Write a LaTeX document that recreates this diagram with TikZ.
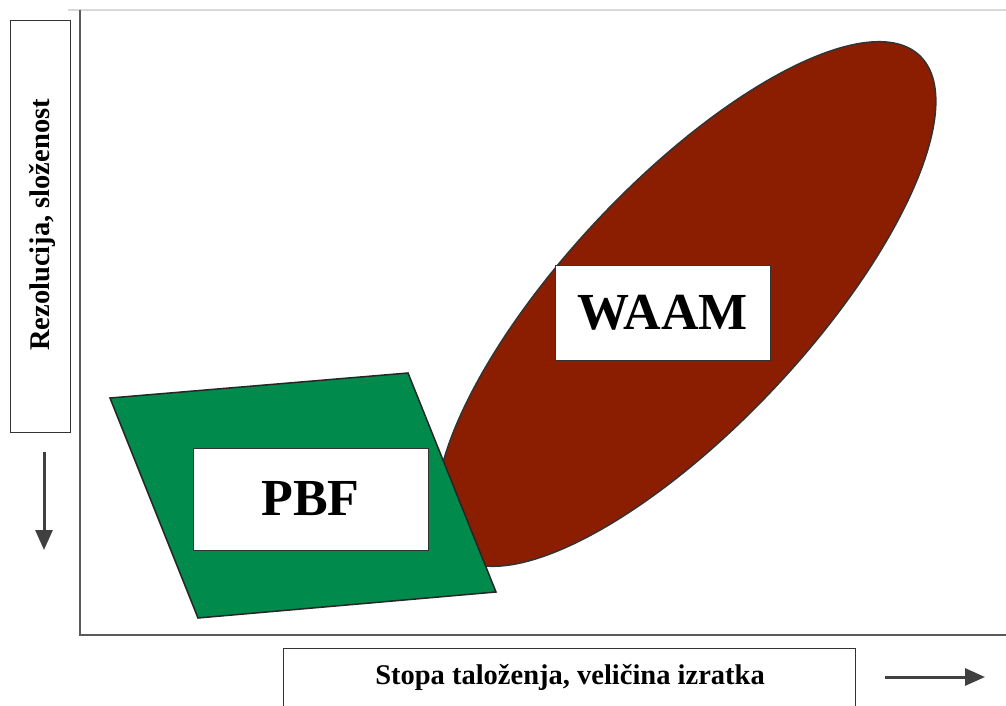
\documentclass[tikz,border=0pt]{standalone}
\usepackage{fontspec}
\setmainfont{Liberation Serif}
\usetikzlibrary{arrows.meta}
\definecolor{pbfgreen}{RGB}{0,138,76}
\definecolor{waamred}{RGB}{139,30,0}
\definecolor{axisgray}{RGB}{90,90,90}
\begin{document}
\begin{tikzpicture}[x=1pt,y=1pt,
  labelbox/.style={draw=black!80,line width=0.8pt,fill=white},
  axisline/.style={draw=axisgray,line width=2.8pt},
  dirarrow/.style={draw=black!75,line width=3pt,-{Triangle[length=20pt,width=17pt]}},
  regionlabel/.style={font=\bfseries\fontsize{52}{52}\selectfont,text=black},
  axislabel/.style={font=\bfseries\fontsize{28.5}{28.5}\selectfont,text=black}]
\useasboundingbox (0,0) rectangle (1006,705);
\fill[white] (0,0) rectangle (1006,705);
% frame lines
\draw[black!15,line width=2pt] (68,695) -- (1006,695);
\draw[axisline] (80,695) -- (80,70) -- (1006,70);
% WAAM ellipse
\filldraw[fill=waamred,draw=black!80,line width=1.5pt,rotate around={46.8:(686,401)}] (686,401) ellipse [x radius=341, y radius=122];
% PBF parallelogram
\filldraw[fill=pbfgreen,draw=black!85,line width=1.5pt] (110,307) -- (408,332) -- (496,113) -- (198,87) -- cycle;
% label boxes
\node[labelbox,minimum width=235pt,minimum height=102pt,inner sep=0pt,regionlabel] (pbf) at (310.5,206) {PBF};
\node[labelbox,minimum width=215pt,minimum height=95pt,inner sep=0pt,regionlabel] (waam) at (662.5,392.5) {WAAM};
% axis labels
\node[labelbox,minimum width=60pt,minimum height=412pt,inner sep=0pt] (ybox) at (40,479) {};
\node[rotate=90,axislabel] (ylab) at (42,480) {Rezolucija, složenost};
\node[labelbox,minimum width=572pt,minimum height=70pt,inner sep=0pt] (xbox) at (569,22) {};
\node[axislabel] (xlab) at (570,28) {Stopa taloženja, veličina izratka};
% direction arrows
\coordinate (ya) at (44,253);
\coordinate (yb) at (44,155);
\draw[dirarrow] (ya) -- (yb);
\coordinate (xa) at (885,28);
\coordinate (xb) at (985,28);
\draw[dirarrow] (xa) -- (xb);
\end{tikzpicture}
\end{document}
